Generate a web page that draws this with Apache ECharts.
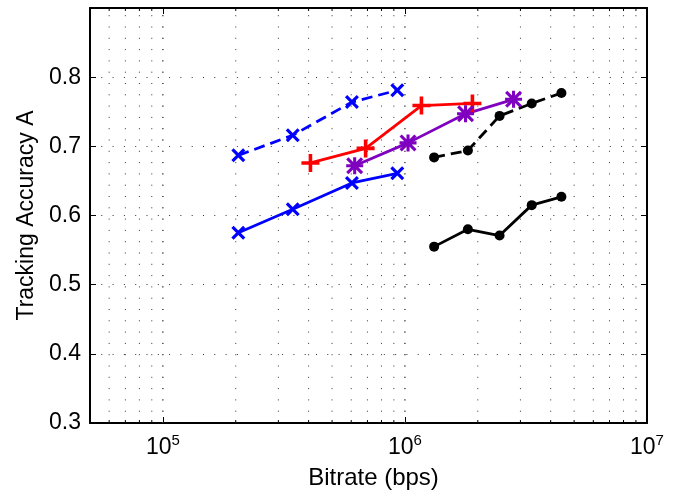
<!DOCTYPE html>
<html>
<head>
<meta charset="utf-8">
<script src="https://cdn.jsdelivr.net/npm/echarts@6/dist/echarts.min.js"></script>
<style>
  html, body { margin: 0; padding: 0; background: #fff; }
  #chart { width: 683px; height: 499px; }
</style>
</head>
<body>
<div id="chart"></div>
<script>
// bitrate (bps) per operating point
const blueX = [2.05e5, 3.44e5, 6.04e5, 9.3e5];
const blueDashedY = [0.687, 0.716, 0.764, 0.781];
const blueSolidY = [0.575, 0.609, 0.647, 0.661];

const redX = [4.07e5, 6.88e5, 1.17e6, 1.9e6];
const redY = [0.676, 0.697, 0.759, 0.762];

const purpleX = [6.2e5, 1.03e6, 1.78e6, 2.81e6];
const purpleY = [0.672, 0.705, 0.747, 0.768];

const blackX = [1.32e6, 1.82e6, 2.46e6, 3.34e6, 4.43e6];
const blackDashedY = [0.684, 0.694, 0.744, 0.762, 0.777];
const blackSolidY = [0.555, 0.580, 0.571, 0.615, 0.627];

const xMin = 5e4, xMax = 1e7;
const yMin = 0.3, yMax = 0.9, yStep = 0.1;

// minor log ticks (2..9 x decade) for the dotted grid
const minorTicks = [];
for (let d = 4; d <= 6; d++) {
    for (let m = 1; m <= 9; m++) {
        const v = m * Math.pow(10, d);
        if (v > xMin && v < xMax) minorTicks.push(v);
    }
}

const zip = (xs, ys) => xs.map((x, i) => [x, ys[i]]);

const crossPath = 'path://M0,1.6L1.6,0L10,8.4L8.4,10ZM8.4,0L10,1.6L1.6,10L0,8.4Z';
const plusPath = 'path://M4,0H6V10H4ZM0,4H10V6H0Z';
const starPath = 'path://M4.1,0H5.9V10H4.1ZM0,4.1H10V5.9H0ZM0,1.3L1.3,0L10,8.7L8.7,10ZM8.7,0L10,1.3L1.3,10L0,8.7Z';

const font = 'Liberation Sans, Arial, Helvetica, sans-serif';
const dotted = [1, 10.3];

const chart = echarts.init(document.getElementById('chart'));

const lineSeries = (name, data, color, symbol, size, dashed) => ({
    name: name,
    type: 'line',
    data: data,
    symbol: symbol,
    symbolSize: size,
    showAllSymbol: true,
    z: 5,
    lineStyle: { color: color, width: 2.8, type: dashed ? [11, 6] : 'solid' },
    itemStyle: { color: color },
    emphasis: { disabled: true }
});

const option = {
    animation: false,
    backgroundColor: '#fff',
    grid: { left: 90, right: 36, top: 8, bottom: 76, containLabel: false },
    xAxis: [{
        type: 'log',
        logBase: 10,
        min: xMin,
        max: xMax,
        name: 'Bitrate (bps)',
        nameLocation: 'middle',
        nameGap: 43,
        nameTextStyle: { fontFamily: font, fontSize: 24, color: '#000', padding: [0, 0, 0, 10] },
        axisLine: { lineStyle: { color: '#000', width: 2 } },
        axisTick: { inside: true, length: 6, lineStyle: { color: '#000', width: 1 } },
        splitLine: { show: false },
        axisLabel: {
            margin: 10,
            color: '#000',
            formatter: function (v) {
                const e = Math.log10(v);
                if (Math.abs(e - Math.round(e)) > 1e-6) return '';
                return '{b|10}{s|' + Math.round(e) + '}';
            },
            rich: {
                b: { fontFamily: font, fontSize: 23, color: '#000' },
                s: { fontFamily: font, fontSize: 15, color: '#000', padding: [0, 0, 15, 0] }
            }
        }
    }, {
        type: 'log',
        logBase: 10,
        min: xMin,
        max: xMax,
        position: 'top',
        axisLine: { lineStyle: { color: '#000', width: 2 } },
        axisTick: { inside: true, length: 6, lineStyle: { color: '#000', width: 1 } },
        axisLabel: { show: false },
        splitLine: { show: false }
    }],
    yAxis: [{
        type: 'value',
        min: yMin,
        max: yMax,
        interval: yStep,
        name: 'Tracking Accuracy A',
        nameLocation: 'middle',
        nameGap: 52,
        nameTextStyle: { fontFamily: font, fontSize: 23, color: '#000' },
        axisLine: { show: true, lineStyle: { color: '#000', width: 2 } },
        axisTick: { show: true, inside: true, length: 6, lineStyle: { color: '#000', width: 1 } },
        axisLabel: {
            margin: 9,
            fontFamily: font,
            fontSize: 23,
            color: '#000',
            formatter: v => (v > 0.85 ? '' : v.toFixed(1))
        },
        splitLine: { show: true, lineStyle: { color: '#333', width: 1, type: dotted } }
    }, {
        type: 'value',
        min: yMin,
        max: yMax,
        interval: yStep,
        position: 'right',
        axisLine: { show: true, lineStyle: { color: '#000', width: 2 } },
        axisTick: { show: true, inside: true, length: 6, lineStyle: { color: '#000', width: 1 } },
        axisLabel: { show: false },
        splitLine: { show: false }
    }],
    series: [
        {
            type: 'custom',
            silent: true,
            z: 1,
            data: minorTicks.concat([1e5, 1e6]).map(v => [v]),
            encode: { x: 0 },
            renderItem: function (params, api) {
                const v = api.value(0);
                const top = api.coord([v, yMax]);
                const bot = api.coord([v, yMin]);
                const isMajor = Math.abs(Math.log10(v) - Math.round(Math.log10(v))) < 1e-6;
                const children = [{
                    type: 'line',
                    shape: { x1: bot[0], y1: bot[1], x2: top[0], y2: top[1] },
                    style: { stroke: '#333', lineWidth: 1, lineDash: dotted }
                }];
                if (!isMajor) {
                    children.push({
                        type: 'line',
                        shape: { x1: bot[0], y1: bot[1], x2: bot[0], y2: bot[1] - 3 },
                        style: { stroke: '#000', lineWidth: 1 }
                    }, {
                        type: 'line',
                        shape: { x1: top[0], y1: top[1], x2: top[0], y2: top[1] + 3 },
                        style: { stroke: '#000', lineWidth: 1 }
                    });
                }
                return { type: 'group', children: children };
            }
        },
        lineSeries('blue dashed', zip(blueX, blueDashedY), '#0000ff', crossPath, 14, true),
        lineSeries('blue solid', zip(blueX, blueSolidY), '#0000ff', crossPath, 14, false),
        lineSeries('red', zip(redX, redY), '#ff0000', plusPath, 18, false),
        lineSeries('purple', zip(purpleX, purpleY), '#7f00bf', starPath, 17, false),
        lineSeries('black dashed', zip(blackX, blackDashedY), '#000000', 'circle', 10, true),
        lineSeries('black solid', zip(blackX, blackSolidY), '#000000', 'circle', 10, false)
    ]
};

chart.setOption(option);
</script>
</body>
</html>
